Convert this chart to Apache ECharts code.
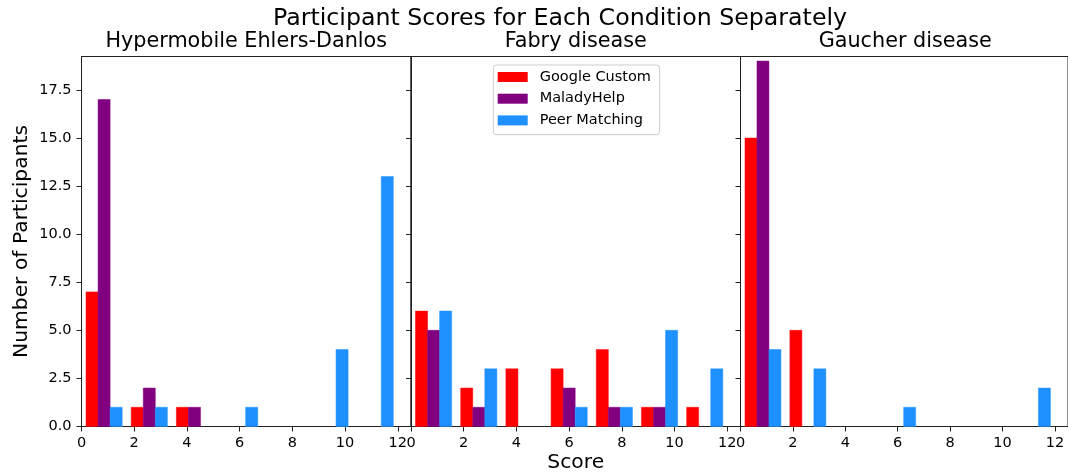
<!DOCTYPE html>
<html>
<head>
<meta charset="utf-8">
<script src="https://cdn.jsdelivr.net/npm/echarts@6/dist/echarts.min.js"></script>
<style>
  html, body { margin: 0; padding: 0; background: #ffffff; }
  #chart { width: 1068px; height: 474px; }
</style>
</head>
<body>
<div id="chart"></div>
<script>
// Conditions (one panel each) and recommendation methods (one bar colour each)
const conditions = ['Hypermobile Ehlers-Danlos', 'Fabry disease', 'Gaucher disease'];
const methods = ['Google Custom', 'MaladyHelp', 'Peer Matching'];
const methodColors = ['#ff0000', '#800080', '#1e90ff'];

// Histogram binning of the 0–12 score range
const scoreMin = 0;
const scoreMax = 12;
const binCount = 7;

// Tick labels
const xTickValues = [0, 2, 4, 6, 8, 10, 12];
const yTickValues = [0, 2.5, 5, 7.5, 10, 12.5, 15, 17.5];

// Participant counts per score bin
const hedsGoogle    = [7, 1, 1, 0, 0, 0, 0];
const hedsMalady    = [17, 2, 1, 0, 0, 0, 0];
const hedsPeer      = [1, 1, 0, 1, 0, 4, 13];

const fabryGoogle   = [6, 2, 3, 3, 4, 1, 1];
const fabryMalady   = [5, 1, 0, 2, 1, 1, 0];
const fabryPeer     = [6, 3, 0, 1, 1, 5, 3];

const gaucherGoogle = [15, 5, 0, 0, 0, 0, 0];
const gaucherMalady = [19, 0, 0, 0, 0, 0, 0];
const gaucherPeer   = [4, 3, 0, 1, 0, 0, 2];

const panelCounts = [
  [hedsGoogle, hedsMalady, hedsPeer],
  [fabryGoogle, fabryMalady, fabryPeer],
  [gaucherGoogle, gaucherMalady, gaucherPeer]
];

const FONT = 'DejaVu Sans';
const INK = '#222222';
const binWidth = (scoreMax - scoreMin) / binCount;
const groupFrac = 0.8;                       // share of each bin covered by the grouped bars
const barSpan = groupFrac * binWidth / methods.length;

// Panel geometry
const panelLefts = [81.5, 411, 740.5];
const panelWidth = 329.5;
const panelTop = 56.5;
const panelHeight = 370;
const xMax = 12.5;
const yMax = 19.24;

const chart = echarts.init(document.getElementById('chart'), null, { renderer: 'canvas' });

const grids = panelLefts.map(left => ({
  left: left, top: panelTop, width: panelWidth, height: panelHeight,
  show: true, borderColor: INK, borderWidth: 1, backgroundColor: 'transparent',
  containLabel: false
}));

const xAxes = panelLefts.map((_, i) => ({
  type: 'value', gridIndex: i, min: 0, max: xMax,
  splitLine: { show: false },
  axisLine: { show: true, onZero: false, lineStyle: { color: INK, width: 1 } },
  axisTick: { show: true, length: 5, inside: false, customValues: xTickValues, lineStyle: { color: INK } },
  axisLabel: { show: true, margin: 9.5, customValues: xTickValues, color: '#000', fontSize: 14.5, fontFamily: FONT,
               formatter: v => String(v) }
}));

const yAxes = panelLefts.map((_, i) => ({
  type: 'value', gridIndex: i, min: 0, max: yMax,
  splitLine: { show: false },
  axisLine: { show: true, onZero: false, lineStyle: { color: INK, width: 1 } },
  axisTick: { show: true, length: 5, inside: false, customValues: yTickValues, lineStyle: { color: INK } },
  axisLabel: { show: i === 0, margin: 10, customValues: yTickValues, color: '#000', fontSize: 14.5, fontFamily: FONT,
               formatter: v => v.toFixed(1) }
}));

const series = [];
panelCounts.forEach((counts, p) => {
  counts.forEach((values, m) => {
    series.push({
      type: 'custom',
      name: methods[m],
      xAxisIndex: p,
      yAxisIndex: p,
      itemStyle: { color: methodColors[m] },
      data: values.map((c, b) => [b, c]),
      renderItem: function (params, api) {
        const bin = api.value(0);
        const count = api.value(1);
        if (!count) return null;
        const x0 = scoreMin + bin * binWidth + (1 - groupFrac) / 2 * binWidth + m * barSpan;
        const x1 = x0 + barSpan;
        const bl = api.coord([x0, 0]);
        const tr = api.coord([x1, count]);
        return {
          type: 'rect',
          shape: { x: bl[0], y: tr[1], width: tr[0] - bl[0], height: bl[1] - tr[1] },
          style: { fill: methodColors[m], stroke: methodColors[m], lineWidth: 0.5 }
        };
      }
    });
  });
});

const panelCenters = panelLefts.map(l => l + panelWidth / 2);

const graphics = [
  { type: 'text', x: 560, y: 18.5,
    style: { text: 'Participant Scores for Each Condition Separately', fontSize: 23.7, fontFamily: FONT,
             fill: '#000', align: 'center', verticalAlign: 'middle' } },
  { type: 'text', x: 22, y: panelTop + panelHeight / 2, rotation: Math.PI / 2,
    style: { text: 'Number of Participants', fontSize: 20.3, fontFamily: FONT,
             fill: '#000', align: 'center', verticalAlign: 'middle' } },
  { type: 'text', x: panelCenters[1], y: 462.3,
    style: { text: 'Score', fontSize: 20.3, fontFamily: FONT,
             fill: '#000', align: 'center', verticalAlign: 'middle' } }
];
conditions.forEach((name, i) => {
  graphics.push({ type: 'text', x: panelCenters[i], y: 41.9,
    style: { text: name, fontSize: 20.75, fontFamily: FONT, fill: '#000', align: 'center', verticalAlign: 'middle' } });
});

chart.setOption({
  animation: false,
  backgroundColor: '#ffffff',
  grid: grids,
  xAxis: xAxes,
  yAxis: yAxes,
  legend: {
    data: methods.map(n => ({ name: n, icon: 'rect' })),
    orient: 'vertical',
    left: 493.3, top: 65,
    padding: [3.5, 8.6, 5.8, 4.4],
    itemWidth: 30, itemHeight: 10, itemGap: 4.7,
    backgroundColor: 'rgba(255,255,255,0.8)',
    borderColor: '#cccccc', borderWidth: 1, borderRadius: 3,
    selectedMode: false,
    textStyle: { fontSize: 14.5, fontFamily: FONT, color: '#000', lineHeight: 17, padding: [0, 0, 0, 7] }
  },
  graphic: graphics,
  series: series
});
</script>
</body>
</html>
